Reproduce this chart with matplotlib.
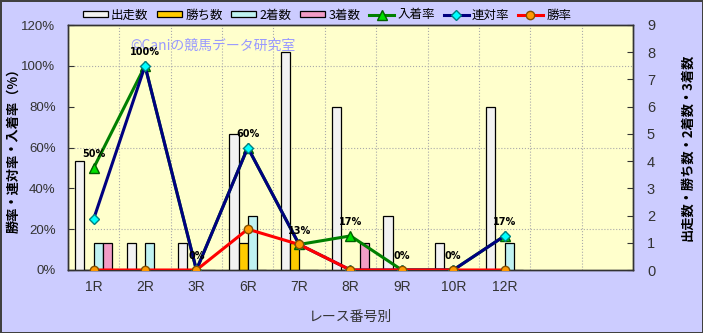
import numpy as np
import matplotlib
matplotlib.use("Agg")
import matplotlib.pyplot as plt
from matplotlib.ticker import FuncFormatter

plt.rcParams['font.family'] = ['Noto Sans CJK JP', 'DejaVu Sans']

races = ["1R", "2R", "3R", "6R", "7R", "8R", "9R", "10R", "12R"]
starts = [4, 1, 1, 5, 8, 6, 2, 1, 6]
wins = [0, 0, 0, 1, 1, 0, 0, 0, 0]
seconds = [1, 1, 0, 2, 0, 0, 0, 0, 1]
thirds = [1, 0, 0, 0, 0, 1, 0, 0, 0]
place_rate = [50, 100, 0, 60, 12.5, 16.7, 0, 0, 16.7]
quinella_rate = [25, 100, 0, 60, 12.5, 0, 0, 0, 16.7]
win_rate = [0, 0, 0, 20, 12.5, 0, 0, 0, 0]
place_labels = ["50%", "100%", "0%", "60%", "13%", "17%", "0%", "0%", "17%"]

n_slots = 11
x = np.arange(len(races))
tick_font = ["Liberation Sans", "DejaVu Sans"]

fig = plt.figure(figsize=(7.03, 3.33), dpi=100)
fig.patch.set_facecolor("#CCCCFF")
fig.patch.set_edgecolor("#404040")
fig.patch.set_linewidth(2)

ax = fig.add_axes([68 / 703, 63 / 333, 565 / 703, 245 / 333])
ax.set_facecolor("#FFFFCC")
ax2 = ax.twinx()

# bars on the count axis (drawn first, below the lines)
w = 0.18
bar_sets = [
    (starts, "#F2F2F2", "出走数"),
    (wins, "#FFCC00", "勝ち数"),
    (seconds, "#BFF2F2", "2着数"),
    (thirds, "#F29CC6", "3着数"),
]
handles = []
for i, (vals, col, lab) in enumerate(bar_sets):
    b = ax.bar(x + (i - 1.5) * w, vals, width=w, color=col, edgecolor="black",
               linewidth=0.9, label=lab, zorder=3)
    handles.append(b)

ax.set_xlim(-0.5, n_slots - 0.5)
ax.set_ylim(0, 9)
ax.set_yticks(range(10))
ax.yaxis.tick_right()
ax.set_yticks(np.arange(0, 9.1, 1.5), minor=True)
ax.set_xticks(x)
ax.set_xticklabels(races, family=tick_font)
ax.set_xticks(np.arange(-0.5, n_slots, 1), minor=True)
ax.tick_params(axis="x", which="both", length=0, labelsize=10, colors="#333333", pad=7)
ax.tick_params(axis="y", which="minor", length=0)
ax.tick_params(axis="y", which="major", labelsize=10.5, colors="#333333", length=4,
               direction="in", pad=10)
for t in ax.get_yticklabels():
    t.set_family(tick_font)
ax.grid(which="minor", color="#AAAAAA", linestyle=":", linewidth=0.8, zorder=0)
ax.set_axisbelow(True)
ax.yaxis.set_label_position("right")
ax.set_ylabel("出走数・勝ち数・2着数・3着数", fontsize=9.5, fontweight="bold", rotation=90)
ax.yaxis.set_label_coords(1.083, 0.5)
ax.set_xlabel("レース番号別", fontsize=10, color="#333333", labelpad=12)

# rate lines on the percent axis
l1, = ax2.plot(x, place_rate, color="#008000", linewidth=2.2, marker="^",
               markersize=7, markerfacecolor="#00E000", markeredgecolor="#006000",
               label="入着率", zorder=4)
l2, = ax2.plot(x, quinella_rate, color="#000080", linewidth=2.2, marker="D",
               markersize=5, markerfacecolor="#00FFFF", markeredgecolor="#008080",
               label="連対率", zorder=5)
l3, = ax2.plot(x, win_rate, color="#FF0000", linewidth=2.2, marker="o",
               markersize=6, markerfacecolor="#FF9900", markeredgecolor="#805000",
               label="勝率", zorder=6)
for xi, yi, t in zip(x, place_rate, place_labels):
    ax2.annotate(t, (xi, yi), xytext=(0, 10), textcoords="offset points",
                 ha="center", va="center", fontsize=7, fontweight="bold",
                 family="DejaVu Sans", zorder=7)

ax2.set_ylim(0, 120)
ax2.set_yticks(range(0, 121, 20))
ax2.yaxis.tick_left()
ax2.yaxis.set_major_formatter(FuncFormatter(lambda v, p: f"{v:.0f}%"))
ax2.tick_params(axis="y", labelsize=9.5, colors="#333333", length=4, direction="in", pad=9)
for t in ax2.get_yticklabels():
    t.set_family(tick_font)
ax2.yaxis.set_label_position("left")
ax2.set_ylabel("勝率・連対率・入着率（%）", fontsize=9.5, fontweight="bold")
ax2.yaxis.set_label_coords(-0.085, 0.5)

for a in (ax, ax2):
    for s in a.spines.values():
        s.set_color("#333333")
        s.set_linewidth(1)

ax.text(0.11, 0.915, "©Caniの競馬データ研究室", transform=ax.transAxes,
        fontsize=10, color="#9999FF", ha="left", va="center", zorder=8)

fig.legend(handles + [l1, l2, l3], [h.get_label() for h in handles + [l1, l2, l3]],
           loc="center", bbox_to_anchor=(0.465, 0.955), ncol=7, frameon=False,
           fontsize=9, handlelength=2.0, handleheight=0.45, handletextpad=0.25,
           columnspacing=0.7, borderaxespad=0)

fig.savefig("out.png", dpi=100, facecolor=fig.get_facecolor(), edgecolor=fig.get_edgecolor())
